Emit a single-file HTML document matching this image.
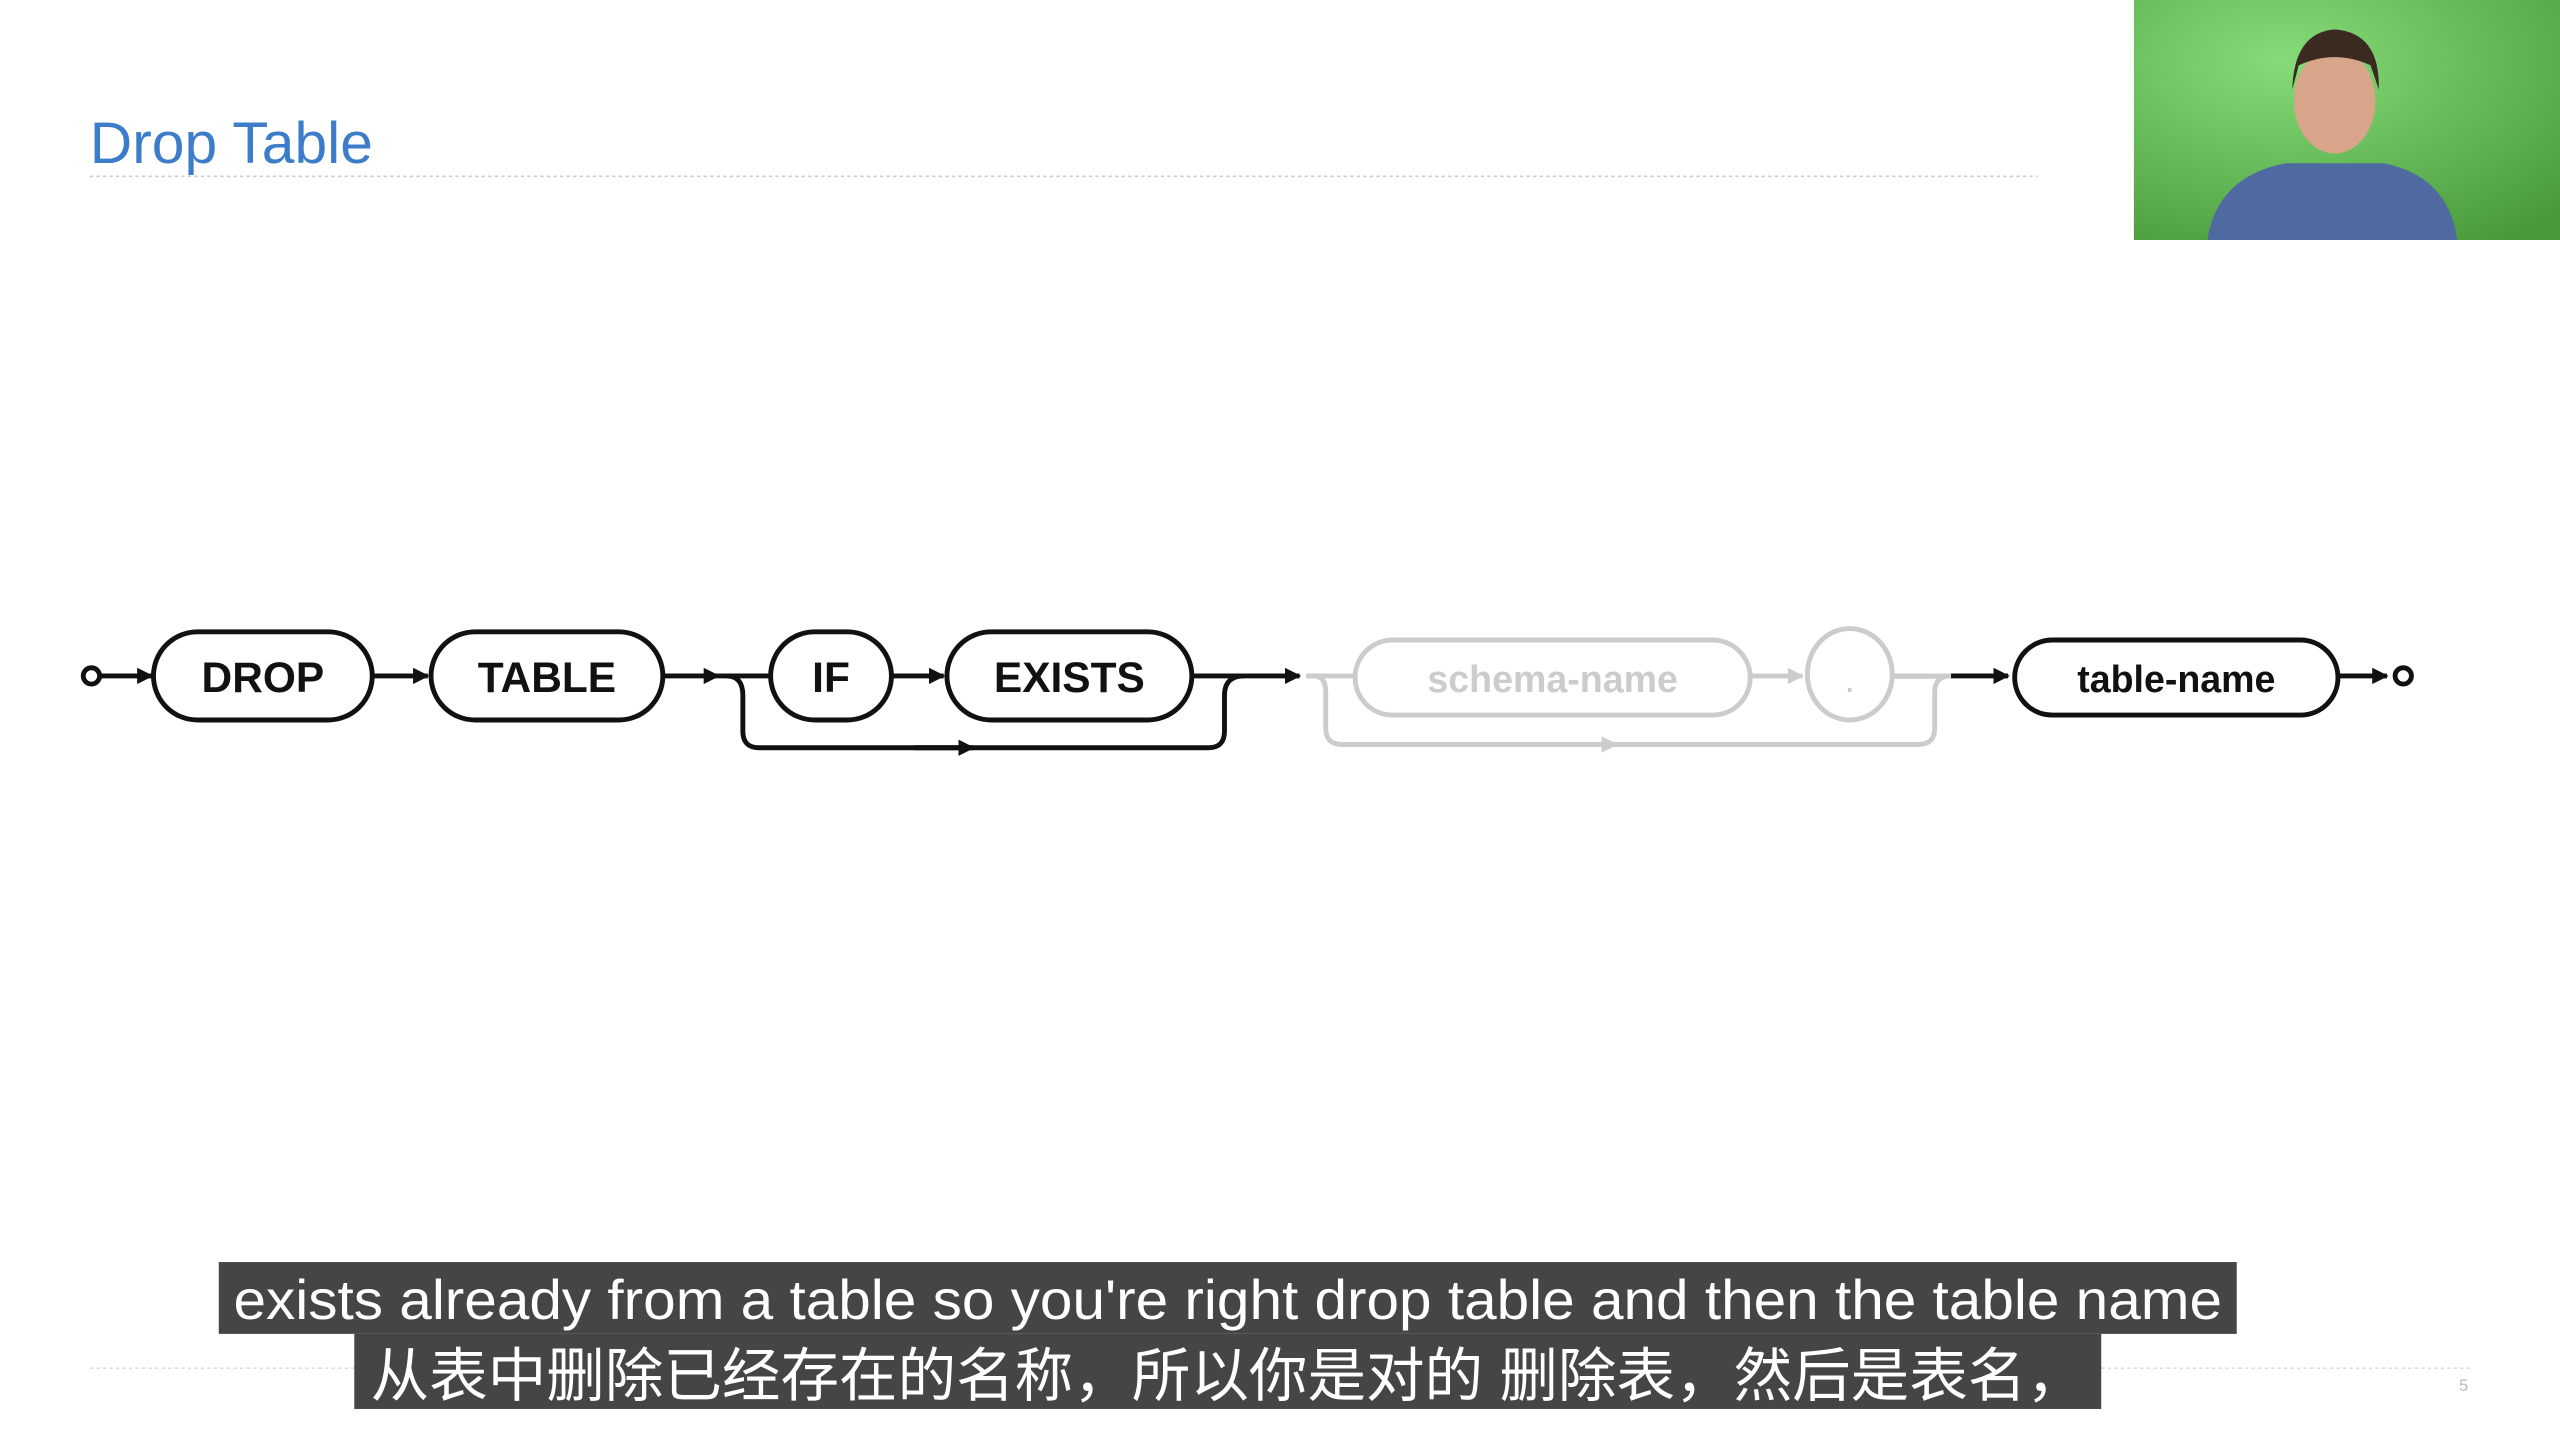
<!DOCTYPE html>
<html><head><meta charset="utf-8"><style>html,body{margin:0;padding:0;background:#fff;overflow:hidden}svg{display:block}</style></head>
<body>
<svg width="2560" height="1440" viewBox="0 0 1568 882" xmlns="http://www.w3.org/2000/svg" font-family="Liberation Sans, sans-serif">
<defs>
<radialGradient id="g" cx="0.35" cy="0.25" r="0.9"><stop offset="0" stop-color="#86dc78"/><stop offset="1" stop-color="#4a9a3c"/></radialGradient>
<marker id="ab" markerWidth="10" markerHeight="10" refX="9" refY="5" orient="auto" markerUnits="userSpaceOnUse"><path d="M0,0 L10,5 L0,10 z" fill="#111"/></marker>
<marker id="ag" markerWidth="10" markerHeight="10" refX="9" refY="5" orient="auto" markerUnits="userSpaceOnUse"><path d="M0,0 L10,5 L0,10 z" fill="#ccc"/></marker>
</defs>
<text x="55" y="100" font-size="36" fill="#3d7cc9">Drop Table</text>
<line x1="55" y1="108" x2="1248" y2="108" stroke="#ccc" stroke-width="1" stroke-dasharray="2,2"/>
<rect x="1307" y="0" width="261" height="147" fill="url(#g)"/>
<ellipse cx="1430" cy="62" rx="25" ry="32" fill="#d9a58a"/>
<path d="M1404,55 Q1405,20 1430,18 Q1458,20 1457,55 L1452,40 Q1430,30 1408,40 z" fill="#3a2a20"/>
<path d="M1352,147 Q1358,108 1400,100 L1460,100 Q1500,108 1505,147 z" fill="#4f6aa0"/>
<g fill="none" stroke="#111" stroke-width="3">
<circle cx="56" cy="414" r="5"/>
<line x1="61" y1="414" x2="93" y2="414" marker-end="url(#ab)"/>
<rect x="94" y="387" width="134" height="54" rx="27"/>
<line x1="228" y1="414" x2="262" y2="414" marker-end="url(#ab)"/>
<rect x="264" y="387" width="142" height="54" rx="27"/>
<line x1="406" y1="414" x2="440" y2="414" marker-end="url(#ab)"/>
<line x1="440" y1="414" x2="472" y2="414"/>
<rect x="472" y="387" width="74" height="54" rx="27"/>
<line x1="546" y1="414" x2="578" y2="414" marker-end="url(#ab)"/>
<rect x="580" y="387" width="150" height="54" rx="27"/>
<line x1="730" y1="414" x2="796" y2="414" marker-end="url(#ab)"/>
<path d="M445,414 Q455,414 455,426 L455,448 Q455,458 465,458 L740,458 Q750,458 750,448 L750,426 Q750,414 762,414"/>
<line x1="560" y1="458" x2="596" y2="458" marker-end="url(#ab)"/>
<line x1="1160" y1="414" x2="1230" y2="414" marker-end="url(#ab)"/>
<rect x="1234" y="392" width="198" height="46" rx="23"/>
<line x1="1432" y1="414" x2="1462" y2="414" marker-end="url(#ab)"/>
<circle cx="1472" cy="414" r="5"/>
</g>
<g fill="none" stroke="#ccc" stroke-width="3">
<line x1="800" y1="414" x2="830" y2="414"/>
<rect x="830" y="392" width="242" height="46" rx="23"/>
<line x1="1072" y1="414" x2="1104" y2="414" marker-end="url(#ag)"/>
<ellipse cx="1133" cy="413" rx="26" ry="28"/>
<line x1="1160" y1="414" x2="1195" y2="414"/>
<path d="M805,414 Q812,414 812,424 L812,446 Q812,456 822,456 L1175,456 Q1185,456 1185,446 L1185,424 Q1185,414 1195,414"/>
<line x1="950" y1="456" x2="990" y2="456" marker-end="url(#ag)"/>
</g>
<g font-weight="bold" font-size="26" fill="#111" text-anchor="middle">
<text x="161" y="424">DROP</text>
<text x="335" y="424">TABLE</text>
<text x="509" y="424">IF</text>
<text x="655" y="424">EXISTS</text>
<text x="1333" y="424" font-size="23">table-name</text>
</g>
<text x="951" y="424" font-size="23" font-weight="bold" fill="#ccc" text-anchor="middle">schema-name</text>
<text x="1133" y="424" font-size="23" fill="#ccc" text-anchor="middle">.</text>
<line x1="55" y1="838" x2="1515" y2="838" stroke="#ddd" stroke-width="1" stroke-dasharray="2,2"/>
<text x="1509" y="852" font-size="10" fill="#bbb" text-anchor="middle">5</text>
<rect x="134" y="773" width="1236" height="44" fill="#454545"/>
<rect x="217" y="817" width="1070" height="46" fill="#454545"/>
<text x="752" y="808" font-size="34" fill="#fff" text-anchor="middle" textLength="1218" lengthAdjust="spacingAndGlyphs">exists already from a table so you're right drop table and then the table name</text>
<text x="752" y="855" font-size="36" fill="#fff" text-anchor="middle" font-family="Liberation Sans, Noto Sans CJK SC, sans-serif" textLength="1050" lengthAdjust="spacingAndGlyphs">从表中删除已经存在的名称，所以你是对的 删除表，然后是表名，</text>
</svg>
</body></html>
